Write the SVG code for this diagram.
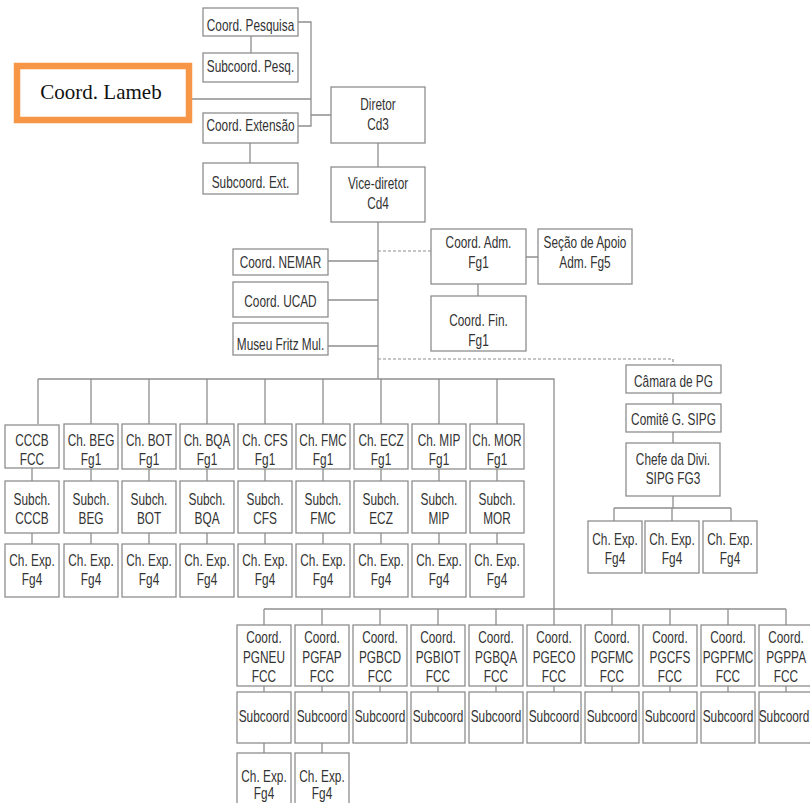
<svg xmlns="http://www.w3.org/2000/svg" width="810" height="803" viewBox="0 0 810 803">
<style>
.b{fill:#fff;stroke:#8e8e8e;stroke-width:1.3}
.t{font-family:"Liberation Sans","Arial",sans-serif;font-size:16px;fill:#333;text-anchor:middle;transform-box:fill-box;transform-origin:center;transform:scaleX(0.74)}
.c{fill:none;stroke:#8e8e8e;stroke-width:1.3}
.d{fill:none;stroke:#8e8e8e;stroke-width:1.2;stroke-dasharray:3 2}
.o{fill:#fff;stroke:#F79646;stroke-width:6.5}
.s{font-family:"Liberation Serif","Times New Roman",serif;font-size:21px;fill:#111;text-anchor:middle}
</style>
<rect width="810" height="803" fill="#fff"/>
<g id="connectors">
<path class="c" d="M298 22H311V126H298M192 99H311M311 115H331M251 36V53M250 143V163M378 143V167M378 222V379M328 261H378M328 300H378M328 346H378M526 257H538M478 284V296"/>
<path class="d" d="M378 251H431M378 359H673V365"/>
<path class="c" d="M673 393V404M673 432V443M673 496V508M614 508H731M614 508V521M672 508V521M731 508V521"/>
<path class="c" d="M38 379H554V625M38 379V424M91 379V424M149 379V424M207 379V424M265 379V424M323 379V424M381 379V424M439 379V424M497 379V424"/>
<path class="c" d="M32 468V481M32 533V544M91 469V481M91 533V544M149 469V481M149 533V544M207 469V481M207 533V544M265 469V481M265 533V544M323 469V481M323 533V544M381 469V481M381 533V544M439 469V481M439 533V544M497 469V481M497 533V544"/>
<path class="c" d="M264 609H786M264 609V625M322 609V625M380 609V625M438 609V625M496 609V625M612 609V625M670 609V625M728 609V625M786 609V625"/>
<path class="c" d="M264 686V692M322 686V692M380 686V692M438 686V692M496 686V692M554 686V692M612 686V692M670 686V692M728 686V692M786 686V692M264 743V753M322 743V753"/>
</g>
<g id="n-pesquisa"><rect class="b" x="203" y="8" width="95" height="28"/><text class="t" x="250.5" y="31">Coord. Pesquisa</text></g>
<g id="n-subpesq"><rect class="b" x="203" y="53" width="95" height="29"/><text class="t" x="250.5" y="72">Subcoord. Pesq.</text></g>
<g id="n-lameb"><rect class="o" x="17" y="66" width="172" height="54"/><text class="s" x="101" y="99">Coord. Lameb</text></g>
<g id="n-extensao"><rect class="b" x="203" y="113" width="95" height="30"/><text class="t" x="250.5" y="131">Coord. Extensão</text></g>
<g id="n-subext"><rect class="b" x="203" y="163" width="95" height="31"/><text class="t" x="250.5" y="188">Subcoord. Ext.</text></g>
<g id="n-diretor"><rect class="b" x="331" y="87" width="94" height="56"/><text class="t" x="378" y="110">Diretor</text><text class="t" x="378" y="130">Cd3</text></g>
<g id="n-vice"><rect class="b" x="331" y="167" width="94" height="55"/><text class="t" x="378" y="189">Vice-diretor</text><text class="t" x="378" y="209">Cd4</text></g>
<g id="n-nemar"><rect class="b" x="233" y="249" width="95" height="26"/><text class="t" x="280.5" y="268">Coord. NEMAR</text></g>
<g id="n-ucad"><rect class="b" x="233" y="282" width="95" height="35"/><text class="t" x="280.5" y="307">Coord. UCAD</text></g>
<g id="n-museu"><rect class="b" x="233" y="323" width="95" height="32"/><text class="t" x="280.5" y="350">Museu Fritz Mul.</text></g>
<g id="n-adm"><rect class="b" x="431" y="229" width="95" height="55"/><text class="t" x="478.5" y="248">Coord. Adm.</text><text class="t" x="478.5" y="268">Fg1</text></g>
<g id="n-secao"><rect class="b" x="538" y="229" width="94" height="55"/><text class="t" x="585" y="248">Seção de Apoio</text><text class="t" x="585" y="268">Adm. Fg5</text></g>
<g id="n-fin"><rect class="b" x="431" y="296" width="95" height="55"/><text class="t" x="478.5" y="326">Coord. Fin.</text><text class="t" x="478.5" y="346">Fg1</text></g>
<g id="n-camara"><rect class="b" x="626" y="365" width="95" height="28"/><text class="t" x="673.5" y="387">Câmara de PG</text></g>
<g id="n-comite"><rect class="b" x="626" y="404" width="95" height="28"/><text class="t" x="673.5" y="425">Comitê G. SIPG</text></g>
<g id="n-chefe"><rect class="b" x="626" y="443" width="94" height="53"/><text class="t" x="673" y="465">Chefe da Divi.</text><text class="t" x="673" y="484">SIPG FG3</text></g>
<g id="n-sipg-exp1"><rect class="b" x="588" y="521" width="54" height="52"/><text class="t" x="615" y="545">Ch. Exp.</text><text class="t" x="615" y="564">Fg4</text></g>
<g id="n-sipg-exp2"><rect class="b" x="645" y="521" width="54" height="52"/><text class="t" x="672" y="545">Ch. Exp.</text><text class="t" x="672" y="564">Fg4</text></g>
<g id="n-sipg-exp3"><rect class="b" x="703" y="521" width="54" height="52"/><text class="t" x="730" y="545">Ch. Exp.</text><text class="t" x="730" y="564">Fg4</text></g>
<g id="n-cccb"><rect class="b" x="5" y="425" width="54" height="43"/><text class="t" x="32" y="446">CCCB</text><text class="t" x="32" y="465">FCC</text></g>
<g id="n-cccb-sub"><rect class="b" x="5" y="481" width="54" height="52"/><text class="t" x="32" y="505">Subch.</text><text class="t" x="32" y="524">CCCB</text></g>
<g id="n-cccb-exp"><rect class="b" x="5" y="544" width="54" height="53"/><text class="t" x="32" y="566">Ch. Exp.</text><text class="t" x="32" y="585">Fg4</text></g>
<g id="n-beg"><rect class="b" x="64" y="424" width="54" height="45"/><text class="t" x="91" y="446">Ch. BEG</text><text class="t" x="91" y="465">Fg1</text></g>
<g id="n-beg-sub"><rect class="b" x="64" y="481" width="54" height="52"/><text class="t" x="91" y="505">Subch.</text><text class="t" x="91" y="524">BEG</text></g>
<g id="n-beg-exp"><rect class="b" x="64" y="544" width="54" height="53"/><text class="t" x="91" y="566">Ch. Exp.</text><text class="t" x="91" y="585">Fg4</text></g>
<g id="n-bot"><rect class="b" x="122" y="424" width="54" height="45"/><text class="t" x="149" y="446">Ch. BOT</text><text class="t" x="149" y="465">Fg1</text></g>
<g id="n-bot-sub"><rect class="b" x="122" y="481" width="54" height="52"/><text class="t" x="149" y="505">Subch.</text><text class="t" x="149" y="524">BOT</text></g>
<g id="n-bot-exp"><rect class="b" x="122" y="544" width="54" height="53"/><text class="t" x="149" y="566">Ch. Exp.</text><text class="t" x="149" y="585">Fg4</text></g>
<g id="n-bqa"><rect class="b" x="180" y="424" width="54" height="45"/><text class="t" x="207" y="446">Ch. BQA</text><text class="t" x="207" y="465">Fg1</text></g>
<g id="n-bqa-sub"><rect class="b" x="180" y="481" width="54" height="52"/><text class="t" x="207" y="505">Subch.</text><text class="t" x="207" y="524">BQA</text></g>
<g id="n-bqa-exp"><rect class="b" x="180" y="544" width="54" height="53"/><text class="t" x="207" y="566">Ch. Exp.</text><text class="t" x="207" y="585">Fg4</text></g>
<g id="n-cfs"><rect class="b" x="238" y="424" width="54" height="45"/><text class="t" x="265" y="446">Ch. CFS</text><text class="t" x="265" y="465">Fg1</text></g>
<g id="n-cfs-sub"><rect class="b" x="238" y="481" width="54" height="52"/><text class="t" x="265" y="505">Subch.</text><text class="t" x="265" y="524">CFS</text></g>
<g id="n-cfs-exp"><rect class="b" x="238" y="544" width="54" height="53"/><text class="t" x="265" y="566">Ch. Exp.</text><text class="t" x="265" y="585">Fg4</text></g>
<g id="n-fmc"><rect class="b" x="296" y="424" width="54" height="45"/><text class="t" x="323" y="446">Ch. FMC</text><text class="t" x="323" y="465">Fg1</text></g>
<g id="n-fmc-sub"><rect class="b" x="296" y="481" width="54" height="52"/><text class="t" x="323" y="505">Subch.</text><text class="t" x="323" y="524">FMC</text></g>
<g id="n-fmc-exp"><rect class="b" x="296" y="544" width="54" height="53"/><text class="t" x="323" y="566">Ch. Exp.</text><text class="t" x="323" y="585">Fg4</text></g>
<g id="n-ecz"><rect class="b" x="354" y="424" width="54" height="45"/><text class="t" x="381" y="446">Ch. ECZ</text><text class="t" x="381" y="465">Fg1</text></g>
<g id="n-ecz-sub"><rect class="b" x="354" y="481" width="54" height="52"/><text class="t" x="381" y="505">Subch.</text><text class="t" x="381" y="524">ECZ</text></g>
<g id="n-ecz-exp"><rect class="b" x="354" y="544" width="54" height="53"/><text class="t" x="381" y="566">Ch. Exp.</text><text class="t" x="381" y="585">Fg4</text></g>
<g id="n-mip"><rect class="b" x="412" y="424" width="54" height="45"/><text class="t" x="439" y="446">Ch. MIP</text><text class="t" x="439" y="465">Fg1</text></g>
<g id="n-mip-sub"><rect class="b" x="412" y="481" width="54" height="52"/><text class="t" x="439" y="505">Subch.</text><text class="t" x="439" y="524">MIP</text></g>
<g id="n-mip-exp"><rect class="b" x="412" y="544" width="54" height="53"/><text class="t" x="439" y="566">Ch. Exp.</text><text class="t" x="439" y="585">Fg4</text></g>
<g id="n-mor"><rect class="b" x="470" y="424" width="54" height="45"/><text class="t" x="497" y="446">Ch. MOR</text><text class="t" x="497" y="465">Fg1</text></g>
<g id="n-mor-sub"><rect class="b" x="470" y="481" width="54" height="52"/><text class="t" x="497" y="505">Subch.</text><text class="t" x="497" y="524">MOR</text></g>
<g id="n-mor-exp"><rect class="b" x="470" y="544" width="54" height="53"/><text class="t" x="497" y="566">Ch. Exp.</text><text class="t" x="497" y="585">Fg4</text></g>
<g id="n-pgneu"><rect class="b" x="237" y="625" width="54" height="61"/><text class="t" x="264" y="643">Coord.</text><text class="t" x="264" y="663">PGNEU</text><text class="t" x="264" y="682">FCC</text></g>
<g id="n-pgneu-sub"><rect class="b" x="237" y="692" width="54" height="51"/><text class="t" x="264" y="722">Subcoord</text></g>
<g id="n-pgneu-exp"><rect class="b" x="237" y="753" width="54" height="60"/><text class="t" x="264" y="782">Ch. Exp.</text><text class="t" x="264" y="799">Fg4</text></g>
<g id="n-pgfap"><rect class="b" x="295" y="625" width="54" height="61"/><text class="t" x="322" y="643">Coord.</text><text class="t" x="322" y="663">PGFAP</text><text class="t" x="322" y="682">FCC</text></g>
<g id="n-pgfap-sub"><rect class="b" x="295" y="692" width="54" height="51"/><text class="t" x="322" y="722">Subcoord</text></g>
<g id="n-pgfap-exp"><rect class="b" x="295" y="753" width="54" height="60"/><text class="t" x="322" y="782">Ch. Exp.</text><text class="t" x="322" y="799">Fg4</text></g>
<g id="n-pgbcd"><rect class="b" x="353" y="625" width="54" height="61"/><text class="t" x="380" y="643">Coord.</text><text class="t" x="380" y="663">PGBCD</text><text class="t" x="380" y="682">FCC</text></g>
<g id="n-pgbcd-sub"><rect class="b" x="353" y="692" width="54" height="51"/><text class="t" x="380" y="722">Subcoord</text></g>
<g id="n-pgbiot"><rect class="b" x="411" y="625" width="54" height="61"/><text class="t" x="438" y="643">Coord.</text><text class="t" x="438" y="663">PGBIOT</text><text class="t" x="438" y="682">FCC</text></g>
<g id="n-pgbiot-sub"><rect class="b" x="411" y="692" width="54" height="51"/><text class="t" x="438" y="722">Subcoord</text></g>
<g id="n-pgbqa"><rect class="b" x="469" y="625" width="54" height="61"/><text class="t" x="496" y="643">Coord.</text><text class="t" x="496" y="663">PGBQA</text><text class="t" x="496" y="682">FCC</text></g>
<g id="n-pgbqa-sub"><rect class="b" x="469" y="692" width="54" height="51"/><text class="t" x="496" y="722">Subcoord</text></g>
<g id="n-pgeco"><rect class="b" x="527" y="625" width="54" height="61"/><text class="t" x="554" y="643">Coord.</text><text class="t" x="554" y="663">PGECO</text><text class="t" x="554" y="682">FCC</text></g>
<g id="n-pgeco-sub"><rect class="b" x="527" y="692" width="54" height="51"/><text class="t" x="554" y="722">Subcoord</text></g>
<g id="n-pgfmc"><rect class="b" x="585" y="625" width="54" height="61"/><text class="t" x="612" y="643">Coord.</text><text class="t" x="612" y="663">PGFMC</text><text class="t" x="612" y="682">FCC</text></g>
<g id="n-pgfmc-sub"><rect class="b" x="585" y="692" width="54" height="51"/><text class="t" x="612" y="722">Subcoord</text></g>
<g id="n-pgcfs"><rect class="b" x="643" y="625" width="54" height="61"/><text class="t" x="670" y="643">Coord.</text><text class="t" x="670" y="663">PGCFS</text><text class="t" x="670" y="682">FCC</text></g>
<g id="n-pgcfs-sub"><rect class="b" x="643" y="692" width="54" height="51"/><text class="t" x="670" y="722">Subcoord</text></g>
<g id="n-pgpfmc"><rect class="b" x="701" y="625" width="54" height="61"/><text class="t" x="728" y="643">Coord.</text><text class="t" x="728" y="663">PGPFMC</text><text class="t" x="728" y="682">FCC</text></g>
<g id="n-pgpfmc-sub"><rect class="b" x="701" y="692" width="54" height="51"/><text class="t" x="728" y="722">Subcoord</text></g>
<g id="n-pgppa"><rect class="b" x="759" y="625" width="54" height="61"/><text class="t" x="786" y="643">Coord.</text><text class="t" x="786" y="663">PGPPA</text><text class="t" x="786" y="682">FCC</text></g>
<g id="n-pgppa-sub"><rect class="b" x="759" y="692" width="54" height="51"/><text class="t" x="784" y="722">Subcoord</text></g>
</svg>
